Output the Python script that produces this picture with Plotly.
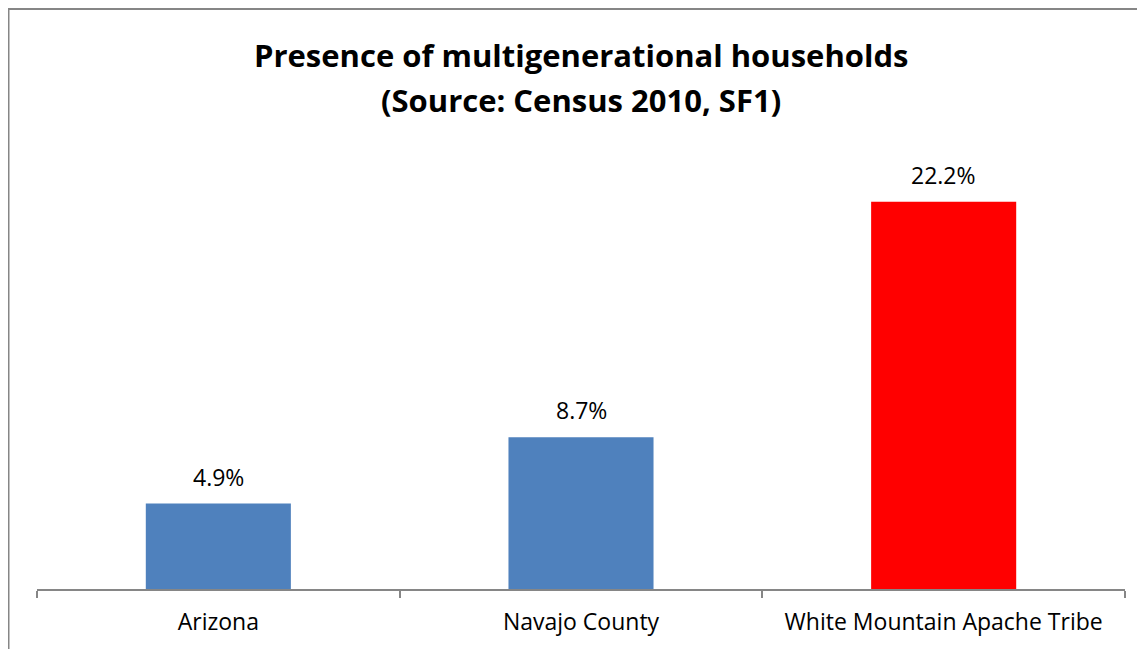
import plotly.graph_objects as go

categories = ["Arizona", "Navajo County", "White Mountain Apache Tribe"]
values = [4.9, 8.7, 22.2]
bar_colors = ["#4F81BD", "#4F81BD", "#FF0000"]
labels = ["4.9%", "8.7%", "22.2%"]
title_lines = ["Presence of multigenerational households", "(Source: Census 2010, SF1)"]

FONT = "Open Sans"
W, H = 1145, 649
L, R, T, B = 29, 28, 145, 68
PW, PH = W - L - R, H - T - B


def px(x):
    return (x - L) / PW


def py(y):
    return (H - B - y) / PH


fig = go.Figure()
fig.add_trace(go.Bar(
    x=categories, y=values, marker=dict(color=bar_colors, line=dict(width=0)),
    hoverinfo="skip",
))
for c, v, t in zip(categories, values, labels):
    fig.add_annotation(x=c, y=v, text=t, showarrow=False, yanchor="bottom", yshift=9,
                       font=dict(family=FONT, size=23, color="#000"))

for i, line in enumerate(title_lines):
    fig.add_annotation(xref="paper", yref="paper", x=px(573), y=py(47 + 45 * i), text="<b>%s</b>" % line,
                       showarrow=False, xanchor="center", yanchor="middle",
                       font=dict(family=FONT, size=31, color="#000"))

fig.update_layout(
    width=W, height=H,
    margin=dict(l=L, r=R, t=T, b=B),
    paper_bgcolor="white", plot_bgcolor="white",
    bargap=0.6, showlegend=False,
    xaxis=dict(showline=True, linecolor="#868686", linewidth=2, ticks="outside", tickson="boundaries",
               ticklen=7, tickcolor="#868686", tickwidth=2, showgrid=False, ticklabelstandoff=11,
               tickfont=dict(family=FONT, size=23, color="#000")),
    yaxis=dict(range=[0, 25], visible=False, showgrid=False, zeroline=False),
)

# chart frame (left and top edges visible)
fig.add_shape(type="line", xref="paper", yref="paper", x0=px(0.5), x1=px(0.5),
              y0=py(0.5), y1=py(H + 10), line=dict(color="#868686", width=2))
fig.add_shape(type="line", xref="paper", yref="paper", x0=px(0), x1=px(W + 10),
              y0=py(1), y1=py(1), line=dict(color="#868686", width=2))

fig.write_html("out.html")
